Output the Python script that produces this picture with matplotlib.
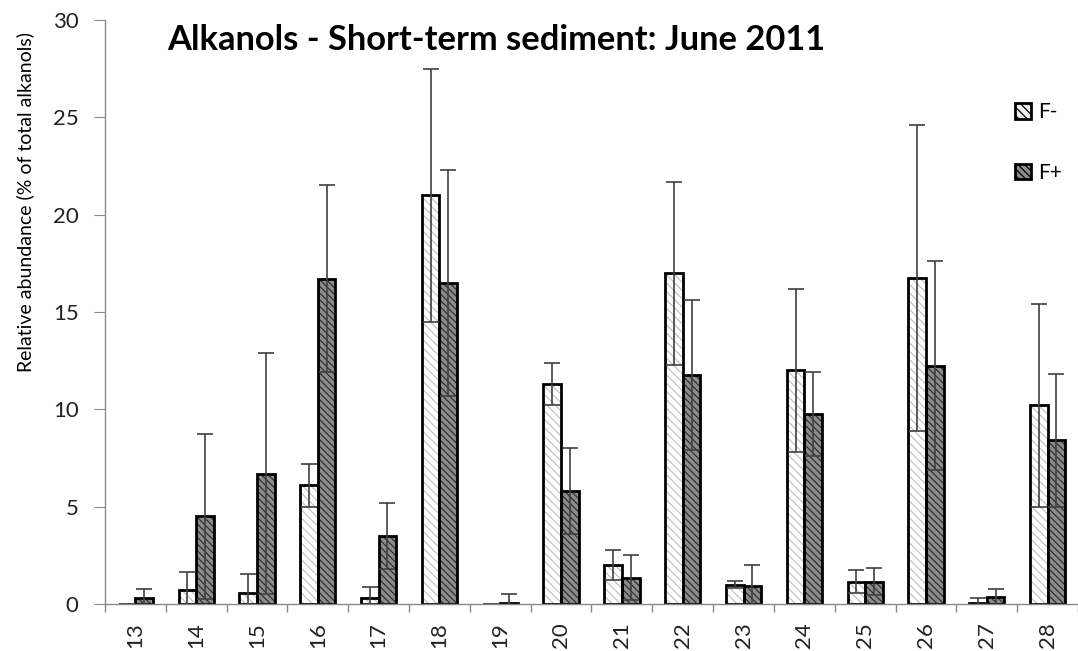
import numpy as np
import matplotlib.pyplot as plt
from matplotlib.patches import Patch

carbon = [13, 14, 15, 16, 17, 18, 19, 20, 21, 22, 23, 24, 25, 26, 27, 28]
f_minus = [0.0, 0.7, 0.55, 6.1, 0.3, 21.0, 0.0, 11.3, 2.0, 17.0, 1.0, 12.0, 1.15, 16.75, 0.05, 10.2]
f_minus_err = [0.0, 0.95, 1.0, 1.1, 0.55, 6.5, 0.0, 1.1, 0.75, 4.7, 0.2, 4.2, 0.6, 7.85, 0.25, 5.2]
f_plus = [0.3, 4.5, 6.7, 16.7, 3.5, 16.5, 0.05, 5.8, 1.35, 11.75, 0.95, 9.75, 1.15, 12.25, 0.35, 8.4]
f_plus_err = [0.45, 4.25, 6.2, 4.8, 1.7, 5.8, 0.45, 2.2, 1.15, 3.85, 1.05, 2.15, 0.7, 5.35, 0.4, 3.4]

plt.rcParams['font.family'] = ['Lato', 'DejaVu Sans']
plt.rcParams['hatch.linewidth'] = 0.9

fig = plt.figure(figsize=(10.78, 6.51), dpi=100)
ax = fig.add_axes([0.0974, 0.0722, 0.9026, 0.8971])

x = np.arange(len(carbon))
w = 0.29

# no outline on empty bars
lw_minus = [2 if v > 0 else 0 for v in f_minus]
lw_plus = [2 if v > 0 else 0 for v in f_plus]

# hatched fills first, outlines on top (hatch colour follows the edge colour)
ax.bar(x - w / 2, f_minus, w, color='white', edgecolor='#c4c4c4', hatch='\\\\\\\\', linewidth=0)
ax.bar(x + w / 2, f_plus, w, color='#8c8c8c', edgecolor='#303030', hatch='\\\\\\\\\\', linewidth=0)
ax.bar(x - w / 2, f_minus, w, fill=False, edgecolor='black', linewidth=lw_minus)
ax.bar(x + w / 2, f_plus, w, fill=False, edgecolor='black', linewidth=lw_plus)

ax.errorbar(x - w / 2, f_minus, yerr=f_minus_err, fmt='none', ecolor='#404040',
            elinewidth=1.2, capsize=6, capthick=1.2)
ax.errorbar(x + w / 2, f_plus, yerr=f_plus_err, fmt='none', ecolor='#404040',
            elinewidth=1.2, capsize=6, capthick=1.2)

handles = [Patch(facecolor='#f2f2f2', edgecolor='black', linewidth=2, hatch='\\\\\\\\', label='F-'),
           Patch(facecolor='#8c8c8c', edgecolor='black', linewidth=2, hatch='\\\\\\\\\\', label='F+')]
fig.legend(handles=handles, loc='upper left', bbox_to_anchor=(0.9416, 0.843), frameon=False,
           fontsize=15, handlelength=0.77, handleheight=0.77, handletextpad=0.35,
           labelspacing=1.95, borderpad=0, borderaxespad=0)

ax.set_xlim(-0.5, len(carbon) - 0.5)
ax.set_ylim(0, 30)
ax.set_yticks(np.arange(0, 31, 5))
ax.set_xticks(x)
ax.set_xticklabels([str(c) for c in carbon], rotation=90)
ax.set_xticks(np.arange(-0.5, len(carbon), 1), minor=True)
ax.tick_params(axis='x', which='major', length=0, labelsize=16, pad=13, colors='#222222')
ax.tick_params(axis='x', which='minor', length=6, color='#888888', width=1)
ax.tick_params(axis='y', length=8, color='#888888', labelsize=16, pad=11, labelcolor='#222222')

for side in ['top', 'right']:
    ax.spines[side].set_visible(False)
for side in ['left', 'bottom']:
    ax.spines[side].set_color('#888888')
    ax.spines[side].set_linewidth(1)

fig.text(0.023, 0.69, 'Relative abundance (% of total alkanols)', rotation=90,
         fontsize=14, ha='center', va='center')
fig.text(0.155, 0.923, 'Alkanols - Short-term sediment: June 2011',
         fontsize=24.8, fontweight='bold', va='baseline', ha='left')

fig.savefig('out.png', dpi=100)
